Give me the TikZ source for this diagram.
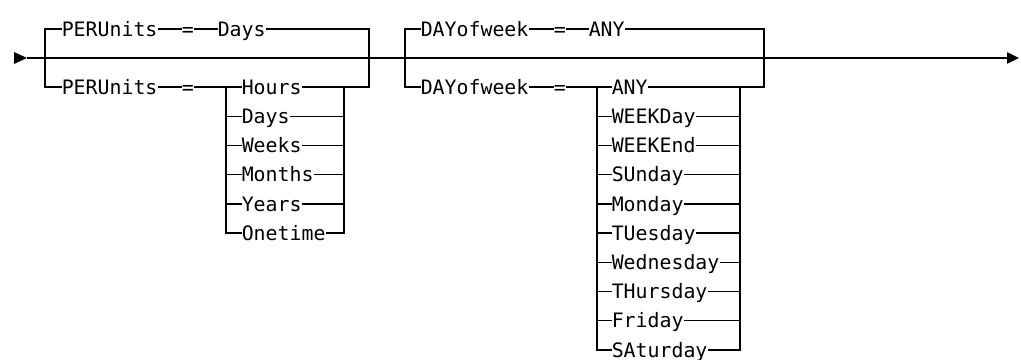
\documentclass[tikz,border=0pt]{standalone}
\usepackage{fontspec}
\setmonofont{DejaVu Sans Mono}
\usetikzlibrary{arrows.meta}
\begin{document}
\begin{tikzpicture}[x=0.75pt,y=-0.75pt,
  kw/.style={anchor=west, inner sep=0pt, font=\ttfamily\fontsize{14.9pt}{16pt}\selectfont, text height=13.8pt, text depth=3pt},
  rail/.style={line width=1pt, black, line join=miter}]
\useasboundingbox (0,0) rectangle (1021,360);

% main line
\coordinate (start) at (27,58);
\coordinate (end) at (1019,58);
\fill (14,52) -- (27,58) -- (14,64) -- cycle;
\draw[rail,-{Triangle[length=9pt,width=8.5pt]}] (start) -- (end);

% ---------- group 1 : PERUnits ----------
\coordinate (g1lb) at (45,87);
\coordinate (g1rb) at (369,87);
\coordinate (i1t) at (226,87);
\coordinate (i1rt) at (344,87);
\node[kw] (p1) at (61.5,29) {PERUnits};
\node[kw] (e1) at (181.5,29) {=};
\node[kw] (dy) at (217.5,29) {Days};
\node[kw] (p2) at (61.5,87) {PERUnits};
\node[kw] (e2) at (181.5,87) {=};
\foreach \t [count=\k] in {Hours,Days,Weeks,Months,Years,Onetime} {
  \node[kw] (h\k) at (241.5,{87+29.22*(\k-1)}) {\t};
}
\draw[rail] (p1.west) -| (g1lb) -- (p2.west);
\draw[rail] (p1.east) -- (e1.west);
\draw[rail] (e1.east) -- (dy.west);
\draw[rail] (dy.east) -| (g1rb) -- (h1.east);
\draw[rail] (p2.east) -- (e2.west);
\draw[rail] (e2.east) -- (h1.west);
\draw[rail] (i1t) |- (h6.west);
\draw[rail] (i1rt) |- (h6.east);
\foreach \k in {2,...,5} {
  \draw[rail] (h\k.west -| i1t) -- (h\k.west);
  \draw[rail] (h\k.east) -- (h\k.east -| i1rt);
}

% ---------- group 2 : DAYofweek ----------
\coordinate (g2lb) at (405,87);
\coordinate (g2rb) at (764,87);
\coordinate (i2t) at (597,87);
\coordinate (i2rt) at (740,87);
\node[kw] (w1) at (420.5,29) {DAYofweek};
\node[kw] (f1) at (553.5,29) {=};
\node[kw] (an) at (588.5,29) {ANY};
\node[kw] (w2) at (420.5,87) {DAYofweek};
\node[kw] (f2) at (553.5,87) {=};
\foreach \t [count=\k] in {ANY,WEEKDay,WEEKEnd,SUnday,Monday,TUesday,Wednesday,THursday,Friday,SAturday} {
  \node[kw] (d\k) at (611.5,{87+29.22*(\k-1)}) {\t};
}
\draw[rail] (w1.west) -| (g2lb) -- (w2.west);
\draw[rail] (w1.east) -- (f1.west);
\draw[rail] (f1.east) -- (an.west);
\draw[rail] (an.east) -| (g2rb) -- (d1.east);
\draw[rail] (w2.east) -- (f2.west);
\draw[rail] (f2.east) -- (d1.west);
\draw[rail] (i2t) |- (d10.west);
\draw[rail] (i2rt) |- (d10.east);
\foreach \k in {2,...,9} {
  \draw[rail] (d\k.west -| i2t) -- (d\k.west);
  \draw[rail] (d\k.east) -- (d\k.east -| i2rt);
}
\end{tikzpicture}
\end{document}
